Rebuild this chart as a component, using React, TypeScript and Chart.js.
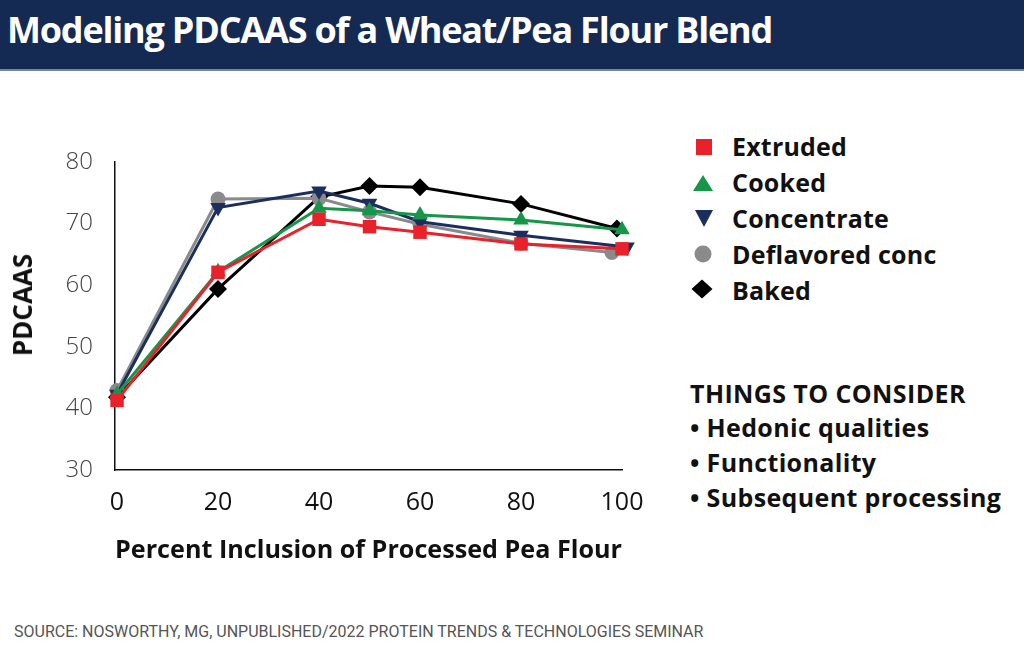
import React, { useEffect, useRef } from "react";
import { Chart, registerables } from "chart.js";

Chart.register(...registerables);

const seriesNames = ["Extruded", "Cooked", "Concentrate", "Deflavored conc", "Baked"];
const seriesColors = ["#e8212b", "#17964a", "#1b2f5f", "#8a8a8c", "#000000"];

const xExtruded = [0, 20, 40, 50, 60, 80, 100];
const yExtruded = [41.3, 62.1, 70.7, 69.5, 68.6, 66.7, 65.9];
const xCooked = [0, 20, 40, 50, 60, 80, 100];
const yCooked = [42.3, 62.2, 72.5, 72.1, 71.4, 70.6, 69.0];
const xConcentrate = [0, 20, 40, 50, 60, 80, 101];
const yConcentrate = [42.3, 72.6, 75.3, 73.3, 70.3, 68.1, 66.2];
const xDeflavored = [0, 20, 40, 50, 60, 80, 98];
const yDeflavored = [42.9, 74.0, 74.1, 71.9, 69.9, 66.8, 65.3];
const xBaked = [0, 20, 40, 50, 60, 80, 99];
const yBaked = [41.8, 59.4, 74.3, 76.1, 75.9, 73.2, 69.2];

const xTicks = [0, 20, 40, 60, 80, 100];
const yTicks = [30, 40, 50, 60, 70, 80];

const considerItems = ["Hedonic qualities", "Functionality", "Subsequent processing"];

const FONT = "'Open Sans', 'Noto Sans', sans-serif";

function pts(xs: number[], ys: number[]) {
  return xs.map((x, i) => ({ x, y: ys[i] }));
}

function Marker({ kind, color }: { kind: string; color: string }) {
  const s = 24;
  let shape: any = null;
  if (kind === "rect") shape = <rect x={4} y={4} width={16} height={16} fill={color} />;
  if (kind === "tri") shape = <polygon points="2,20 22,20 12,4" fill={color} />;
  if (kind === "tridown") shape = <polygon points="3,4 21,4 12,21" fill={color} />;
  if (kind === "circle") shape = <circle cx={12} cy={12} r={8.5} fill={color} />;
  if (kind === "diamond") shape = <polygon points="1.5,12 12,2.5 22.5,12 12,21.5" fill={color} />;
  return (
    <svg width={s} height={s} style={{ position: "absolute", left: -12, top: -12 }}>
      {shape}
    </svg>
  );
}

export default function App() {
  const ref = useRef<HTMLCanvasElement | null>(null);

  useEffect(() => {
    if (!ref.current) return;
    const styles = ["rect", "triangle", "triangle", "circle", "rectRot"];
    const rotations = [0, 0, 180, 0, 0];
    const radii = [9.5, 9, 9, 7.5, 9];
    const data = [
      pts(xExtruded, yExtruded),
      pts(xCooked, yCooked),
      pts(xConcentrate, yConcentrate),
      pts(xDeflavored, yDeflavored),
      pts(xBaked, yBaked),
    ];
    const chart = new Chart(ref.current, {
      type: "line",
      data: {
        datasets: seriesNames.map((name, i) => ({
          label: name,
          data: data[i],
          borderColor: seriesColors[i],
          backgroundColor: seriesColors[i],
          borderWidth: 3,
          pointStyle: styles[i] as any,
          rotation: rotations[i],
          pointRadius: radii[i],
          pointBorderWidth: 0,
          pointBackgroundColor: seriesColors[i],
          tension: 0,
          clip: false as any,
        })),
      },
      options: {
        animation: false,
        responsive: true,
        maintainAspectRatio: false,
        layout: { padding: { top: 162, left: 0, right: 58, bottom: 30 } },
        plugins: { legend: { display: false }, tooltip: { enabled: false } },
        scales: {
          x: {
            type: "linear",
            min: -0.4,
            max: 100,
            afterBuildTicks: (s: any) => {
              s.ticks = xTicks.map((v) => ({ value: v }));
            },
            afterFit: (s: any) => {
              s.height = 100;
            },
            grid: { display: false, drawTicks: false },
            border: { display: true, color: "#111", width: 1.5 },
            ticks: {
              padding: 18,
              color: "#111",
              font: { family: FONT, size: 25, weight: 400 as any },
            },
            title: {
              display: true,
              text: "Percent Inclusion of Processed Pea Flour",
              color: "#111",
              font: { family: FONT, size: 25.5, weight: "bold" as any },
              padding: { top: 0, bottom: 4 },
            },
          },
          y: {
            type: "linear",
            min: 30,
            max: 80,
            afterBuildTicks: (s: any) => {
              s.ticks = yTicks.map((v) => ({ value: v }));
            },
            afterFit: (s: any) => {
              s.width = 115;
            },
            grid: { display: false, drawTicks: false },
            border: { display: true, color: "#111", width: 1.5 },
            ticks: {
              padding: 22,
              color: "#444",
              font: { family: FONT, size: 24, weight: 300 as any },
            },
          },
        },
      },
    });
    return () => chart.destroy();
  }, []);

  const markerKinds = ["rect", "tri", "tridown", "circle", "diamond"];
  const legendCenters = [147, 183, 219, 255, 291];
  const markerOffsets = [
    [704, 147],
    [703, 183],
    [704, 218],
    [703, 254],
    [702, 289],
  ];
  const considerCenters = [428, 463, 498];

  return (
    <div
      style={{
        position: "absolute",
        left: 0,
        top: 0,
        width: 1024,
        height: 672,
        background: "#fff",
        overflow: "hidden",
        fontFamily: FONT,
      }}
    >
      <div
        style={{
          position: "absolute",
          left: 0,
          top: 0,
          width: 1024,
          height: 69,
          background: "#142a53",
          borderBottom: "2px solid #7086ad",
        }}
      >
        <div
          style={{
            position: "absolute",
            left: 7,
            top: 6,
            color: "#fff",
            fontWeight: 700,
            fontSize: 36,
            lineHeight: "48px",
            whiteSpace: "nowrap",
            letterSpacing: -1.2,
          }}
        >
          Modeling PDCAAS of a Wheat/Pea Flour Blend
        </div>
      </div>

      <div style={{ position: "absolute", left: 0, top: 0, width: 680, height: 600 }}>
        <canvas ref={ref} />
      </div>

      <div
        style={{
          position: "absolute",
          left: 22,
          top: 305,
          transform: "translate(-50%, -50%) rotate(-90deg)",
          fontWeight: 700,
          fontSize: 26,
          color: "#111",
          whiteSpace: "nowrap",
          lineHeight: "30px",
        }}
      >
        PDCAAS
      </div>

      {seriesNames.map((name, i) => (
        <React.Fragment key={name}>
          <div style={{ position: "absolute", left: markerOffsets[i][0], top: markerOffsets[i][1] }}>
            <Marker kind={markerKinds[i]} color={seriesColors[i]} />
          </div>
          <div
            style={{
              position: "absolute",
              left: 732,
              top: legendCenters[i] - 19,
              fontWeight: 700,
              fontSize: 25,
              lineHeight: "36px",
              color: "#111",
              whiteSpace: "nowrap",
              letterSpacing: 0.2,
            }}
          >
            {name}
          </div>
        </React.Fragment>
      ))}

      <div
        style={{
          position: "absolute",
          left: 690,
          top: 394 - 19,
          fontWeight: 700,
          fontSize: 25,
          lineHeight: "36px",
          color: "#111",
          whiteSpace: "nowrap",
          letterSpacing: 0.4,
        }}
      >
        THINGS TO CONSIDER
      </div>
      {considerItems.map((t, i) => (
        <div
          key={t}
          style={{
            position: "absolute",
            left: 690,
            top: considerCenters[i] - 19,
            fontWeight: 700,
            fontSize: 25,
            lineHeight: "36px",
            color: "#111",
            whiteSpace: "nowrap",
            letterSpacing: 0.35,
          }}
        >
          {"\u2022 " + t}
        </div>
      ))}

      <div
        style={{
          position: "absolute",
          left: 14,
          top: 622,
          fontFamily: "'Liberation Sans Narrow', 'Roboto', sans-serif",
          fontSize: 16,
          lineHeight: "20px",
          color: "#555",
          whiteSpace: "nowrap",
        }}
      >
        SOURCE: NOSWORTHY, MG, UNPUBLISHED/2022 PROTEIN TRENDS &amp; TECHNOLOGIES SEMINAR
      </div>
    </div>
  );
}
